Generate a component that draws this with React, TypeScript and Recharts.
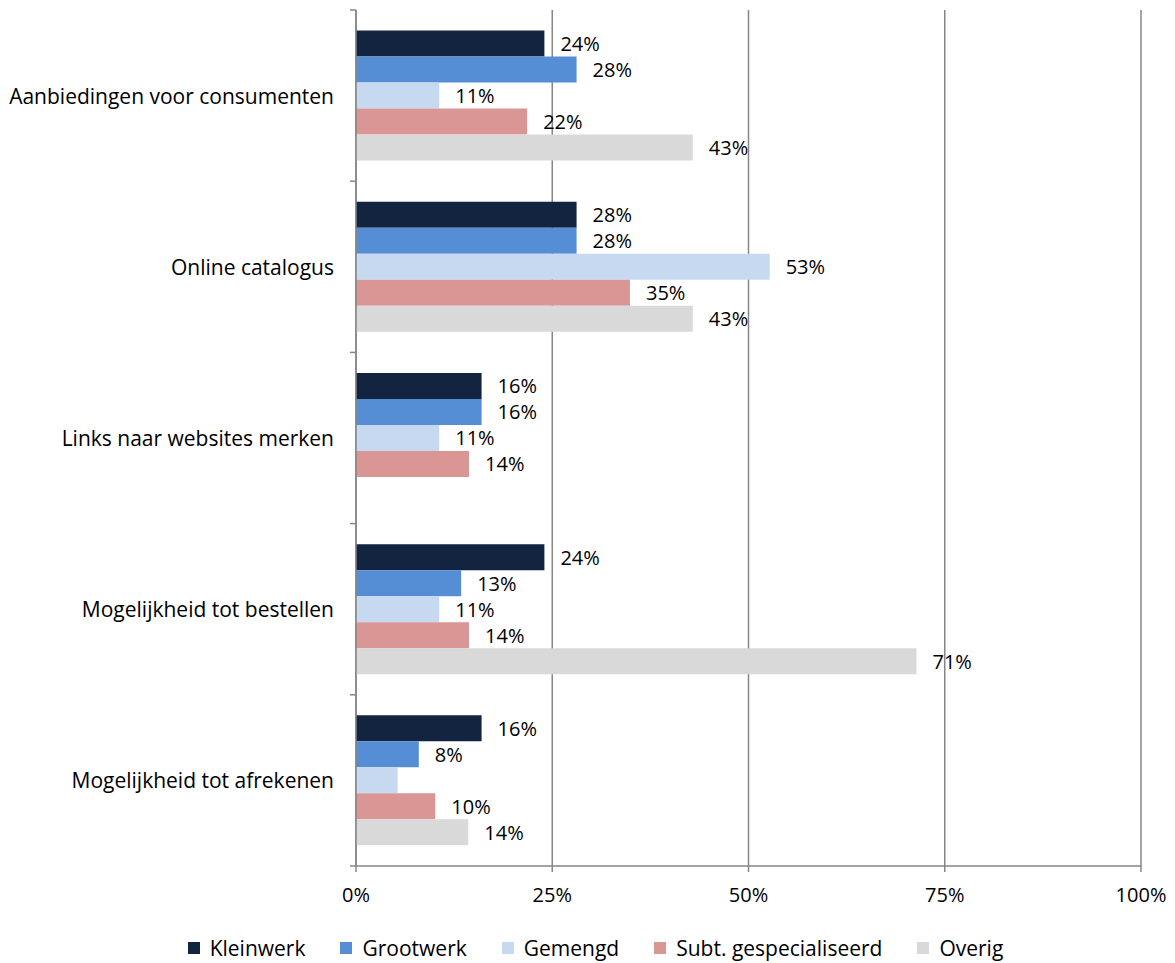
import { BarChart, Bar, XAxis, YAxis, CartesianGrid, Legend, LabelList } from 'recharts'

const categories = [
  'Aanbiedingen voor consumenten',
  'Online catalogus',
  'Links naar websites merken',
  'Mogelijkheid tot bestellen',
  'Mogelijkheid tot afrekenen',
]

const kleinwerk = [24.0, 28.1, 16.0, 24.0, 16.0]
const grootwerk = [28.1, 28.1, 16.0, 13.4, 8.0]
const gemengd = [10.6, 52.7, 10.6, 10.6, 5.3]
const subtGespecialiseerd = [21.8, 34.9, 14.4, 14.4, 10.1]
const overig: (number | null)[] = [42.9, 42.9, null, 71.4, 14.3]

const xTicks = [0, 25, 50, 75, 100]

// in the original, the small Gemengd bar of the last category has no label
const hiddenLabels: Record<string, number[]> = { gemengd: [4] }

const series = [
  { key: 'kleinwerk', name: 'Kleinwerk', color: '#12243F' },
  { key: 'grootwerk', name: 'Grootwerk', color: '#558ED5' },
  { key: 'gemengd', name: 'Gemengd', color: '#C6D9F1' },
  { key: 'subt', name: 'Subt. gespecialiseerd', color: '#D99694' },
  { key: 'overig', name: 'Overig', color: '#D9D9D9' },
]

const data = categories.map((name, i) => ({
  name,
  kleinwerk: kleinwerk[i],
  grootwerk: grootwerk[i],
  gemengd: gemengd[i],
  subt: subtGespecialiseerd[i],
  overig: overig[i],
}))

const FONT = '"Open Sans", Lato, sans-serif'
const FS = 21
const FS_NUM = 20
const AXIS = '#868686'
const TICK_SIZE = 6
const TICK_MARGIN = 16

// eslint-disable-next-line @typescript-eslint/no-explicit-any
const CategoryTick = (props: any) => {
  const { x, y, payload, index, visibleTicksCount } = props
  const half = payload?.offset ?? 85.6
  const axisX = x + TICK_MARGIN + TICK_SIZE
  return (
    <g>
      <line x1={axisX - TICK_SIZE} x2={axisX} y1={y - half} y2={y - half} stroke={AXIS} strokeWidth={1.5} />
      {index === visibleTicksCount - 1 && (
        <line x1={axisX - TICK_SIZE} x2={axisX} y1={y + half} y2={y + half} stroke={AXIS} strokeWidth={1.5} />
      )}
      <text x={x} y={y} textAnchor="end" dominantBaseline="central" fill="#000" fontSize={FS} fontFamily={FONT}>
        {payload.value}
      </text>
    </g>
  )
}

const makeLabel = (key: string) =>
  // eslint-disable-next-line @typescript-eslint/no-explicit-any
  (props: any) => {
    const { x, y, width, height, value, index } = props
    if (value == null || (hiddenLabels[key] ?? []).includes(index)) return null
    return (
      <text
        x={Number(x) + Number(width) + 16}
        y={Number(y) + Number(height) / 2}
        dominantBaseline="central"
        fill="#000"
        fontSize={FS_NUM}
        fontFamily={FONT}
      >
        {Math.round(Number(value))}%
      </text>
    )
  }

const LegendContent = () => (
  <div
    style={{
      display: 'flex',
      justifyContent: 'center',
      alignItems: 'center',
      height: 26,
      gap: 35,
      paddingLeft: 40,
      fontFamily: FONT,
      fontSize: FS,
      color: '#000',
    }}
  >
    {series.map((s) => (
      <div key={s.key} style={{ display: 'flex', alignItems: 'center', gap: 10 }}>
        <span style={{ width: 12, height: 12, background: s.color, display: 'inline-block' }} />
        <span>{s.name}</span>
      </div>
    ))}
  </div>
)

export default function App() {
  return (
    <div style={{ position: 'absolute', left: 0, top: 0, background: '#fff' }}>
      <BarChart
        width={1175}
        height={963}
        data={data}
        layout="vertical"
        margin={{ top: 10, right: 34, left: 10, bottom: 2 }}
        barCategoryGap="12%"
        barGap={0}
      >
        <CartesianGrid horizontal={false} stroke={AXIS} strokeWidth={1.5} />
        <XAxis
          type="number"
          domain={[0, 100]}
          ticks={xTicks}
          tickFormatter={(v) => `${v}%`}
          stroke={AXIS}
          strokeWidth={1.5}
          tickSize={TICK_SIZE}
          tickMargin={16}
          height={69}
          tick={{ fill: '#000', fontSize: FS_NUM, fontFamily: FONT }}
        />
        <YAxis
          type="category"
          dataKey="name"
          width={346}
          stroke={AXIS}
          strokeWidth={1.5}
          tickSize={TICK_SIZE}
          tickMargin={TICK_MARGIN}
          tickLine={{ stroke: 'transparent' }}
          tick={<CategoryTick />}
          interval={0}
        />
        <Legend verticalAlign="bottom" content={<LegendContent />} />
        {series.map((s) => (
          <Bar key={s.key} dataKey={s.key} name={s.name} fill={s.color} isAnimationActive={false}>
            <LabelList dataKey={s.key} content={makeLabel(s.key)} />
          </Bar>
        ))}
      </BarChart>
    </div>
  )
}
